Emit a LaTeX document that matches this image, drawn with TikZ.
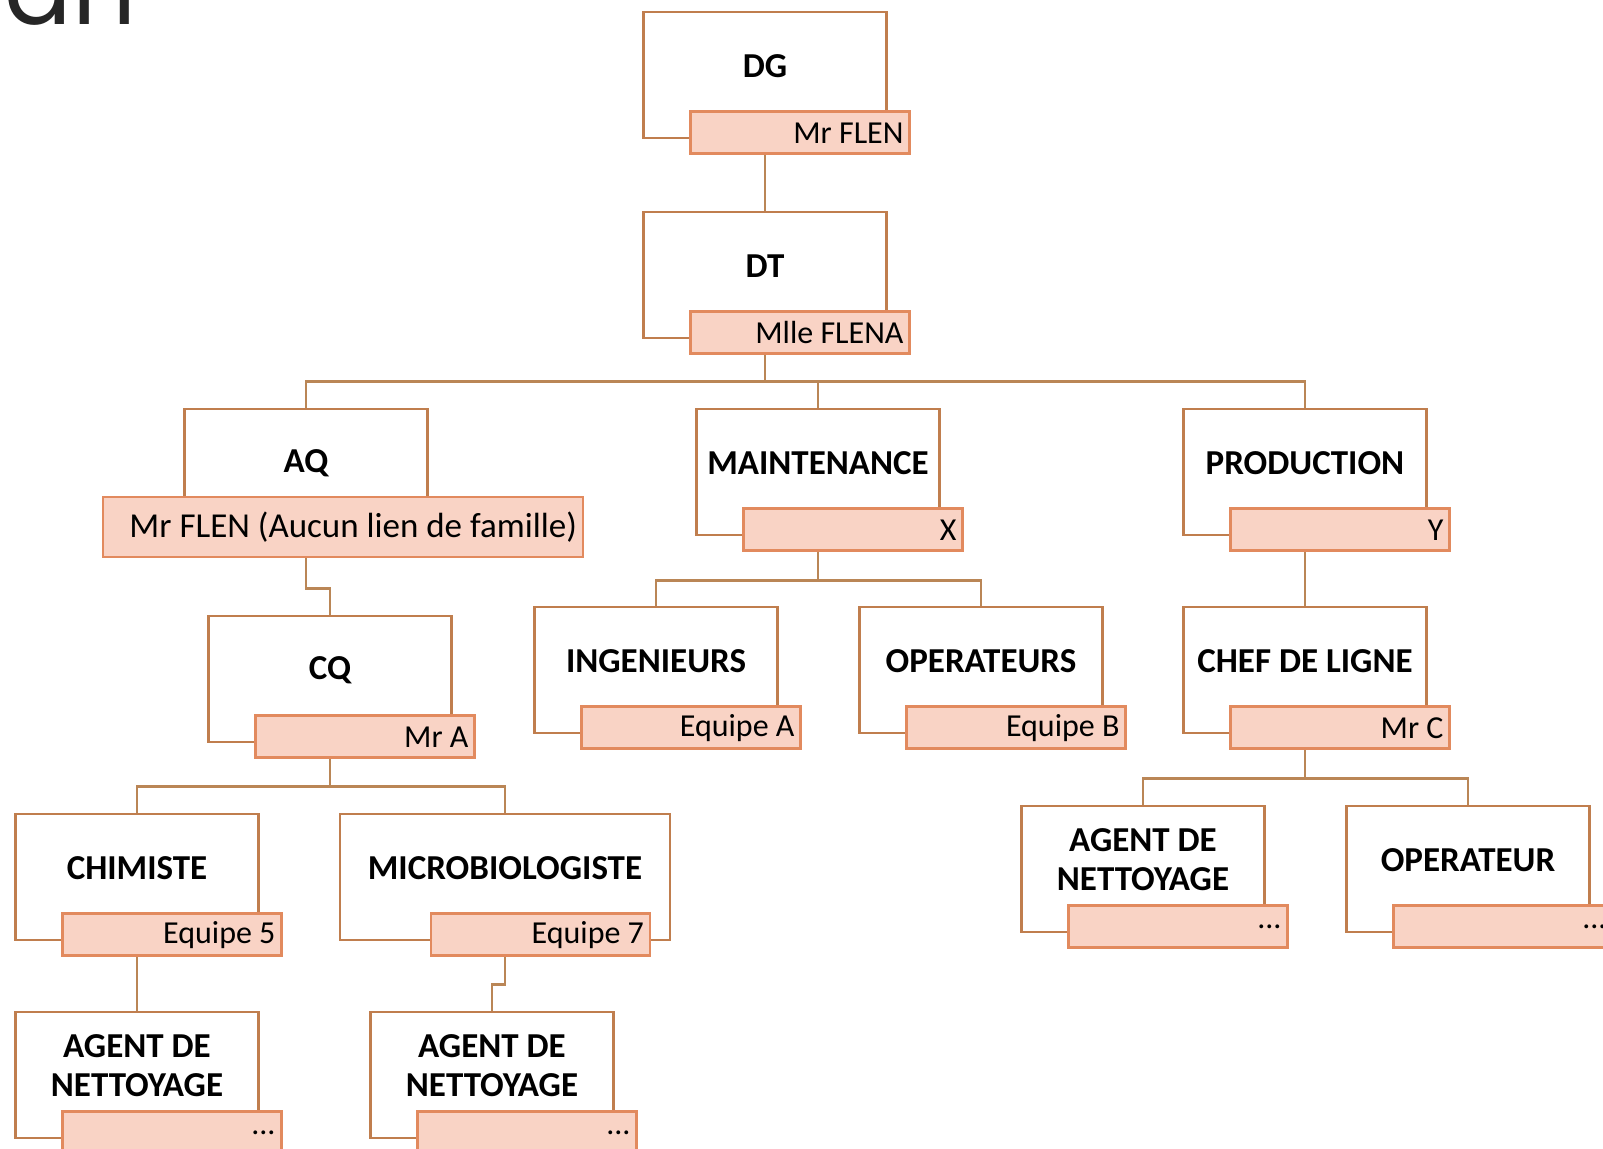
\documentclass[tikz,border=0pt]{standalone}
\usepackage{fontspec}
\setmainfont{Carlito}
\newfontfamily\headfont{Poppins}
\usetikzlibrary{calc,backgrounds}

\definecolor{frameline}{RGB}{192,126,78}
\definecolor{holderline}{RGB}{226,138,94}
\definecolor{holderfill}{RGB}{249,211,197}
\definecolor{linkline}{RGB}{186,134,86}

\begin{document}
\begin{tikzpicture}[x=0.5pt,y=-0.5pt,
    dept/.style={draw=frameline,fill=white,line width=1.4pt,
                 minimum width=121.5pt,minimum height=63pt,inner sep=0pt},
    ttl/.style={font=\bfseries\fontsize{17.5}{19.5}\selectfont,
                align=center,yshift=4.5pt},
    holder/.style={draw=holderline,fill=holderfill,line width=1.4pt,
                   anchor=north west,minimum height=21pt,inner xsep=3pt,
                   inner ysep=0pt,text width=103.5pt,align=flush right,
                   font=\fontsize{16}{18}\selectfont},
    every edge/.style={draw=linkline,line width=1.2pt},
    elbow/.style={to path={(\tikztostart.south) -- ++(0,#1)
                  -| (\tikztotarget.north)}},
    elbow/.default=44]
  \useasboundingbox (0,0) rectangle (1603,1149);
  \clip (0,0) rectangle (1603,1149);

  \node[font=\headfont\fontsize{50}{50}\selectfont,anchor=base west,
        inner sep=0pt,text=black!85] (head) at (4,25) {an};

  % direction
  \node[dept,label={[ttl]center:DG}] (dg) at (765,75) {};
  \node[holder] (dg-n) at ($(dg.south west)+(47,-29)$) {Mr FLEN};
  \node[dept,label={[ttl]center:DT}] (dt) at (765,275) {};
  \node[holder] (dt-n) at ($(dt.south west)+(47,-29)$) {Mlle FLENA};

  % services
  \node[dept,label={[ttl]center:AQ}] (aq) at (306,472) {};
  \node[holder,anchor=center,minimum height=30pt,text width=234pt,
        font=\fontsize{17.5}{20}\selectfont]
        (aq-n) at (343,527) {Mr FLEN (Aucun lien de famille)};
  \node[dept,label={[ttl]center:MAINTENANCE}] (mt) at (818,472) {};
  \node[holder] (mt-n) at ($(mt.south west)+(47,-29)$) {X};
  \node[dept,label={[ttl]center:PRODUCTION}] (pr) at (1305,472) {};
  \node[holder] (pr-n) at ($(pr.south west)+(47,-29)$) {Y};

  % third row
  \node[dept,label={[ttl]center:CQ}] (cq) at (330,679) {};
  \node[holder] (cq-n) at ($(cq.south west)+(47,-29)$) {Mr A};
  \node[dept,label={[ttl]center:INGENIEURS}] (ing) at (656,670) {};
  \node[holder] (ing-n) at ($(ing.south west)+(47,-29)$) {Equipe A};
  \node[dept,label={[ttl]center:OPERATEURS}] (op) at (981,670) {};
  \node[holder] (op-n) at ($(op.south west)+(47,-29)$) {Equipe B};
  \node[dept,label={[ttl]center:CHEF DE LIGNE}] (cl) at (1305,670) {};
  \node[holder] (cl-n) at ($(cl.south west)+(47,-29)$) {Mr C};

  % teams
  \node[dept,label={[ttl]center:CHIMISTE}] (ch) at (137,877) {};
  \node[holder] (ch-n) at ($(ch.south west)+(47,-29)$) {Equipe 5};
  \node[dept,minimum width=165pt,label={[ttl]center:MICROBIOLOGISTE}]
        (mb) at (505,877) {};
  \node[holder,anchor=north east] (mb-n) at ($(mb.south east)+(-20,-29)$)
        {Equipe 7};
  \node[dept,label={[ttl]center:AGENT DE\\NETTOYAGE}] (ag1) at (137,1075) {};
  \node[holder] (ag1-n) at ($(ag1.south west)+(47,-29)$) {...};
  \node[dept,label={[ttl]center:AGENT DE\\NETTOYAGE}] (ag2) at (492,1075) {};
  \node[holder] (ag2-n) at ($(ag2.south west)+(47,-29)$) {...};
  \node[dept,label={[ttl]center:AGENT DE\\NETTOYAGE}] (ag3) at (1143,869) {};
  \node[holder] (ag3-n) at ($(ag3.south west)+(47,-29)$) {...};
  \node[dept,label={[ttl]center:OPERATEUR}] (op2) at (1468,869) {};
  \node[holder] (op2-n) at ($(op2.south west)+(47,-29)$) {...};

  \begin{scope}[on background layer]
    \fill[white] (0,0) rectangle (1603,1149);
    \path (dg) edge (dt)
          (dt) edge[elbow=42] (aq) edge[elbow=42] (mt) edge[elbow=42] (pr)
          (aq) edge[elbow=52] (cq)
          (mt) edge[elbow] (ing) edge[elbow] (op)
          (pr) edge (cl)
          (cq) edge[elbow=43] (ch) edge[elbow=43] (mb)
          (ch) edge (ag1)
          (mb) edge[elbow=43] (ag2)
          (cl) edge[elbow] (ag3) edge[elbow] (op2);
  \end{scope}
\end{tikzpicture}
\end{document}
